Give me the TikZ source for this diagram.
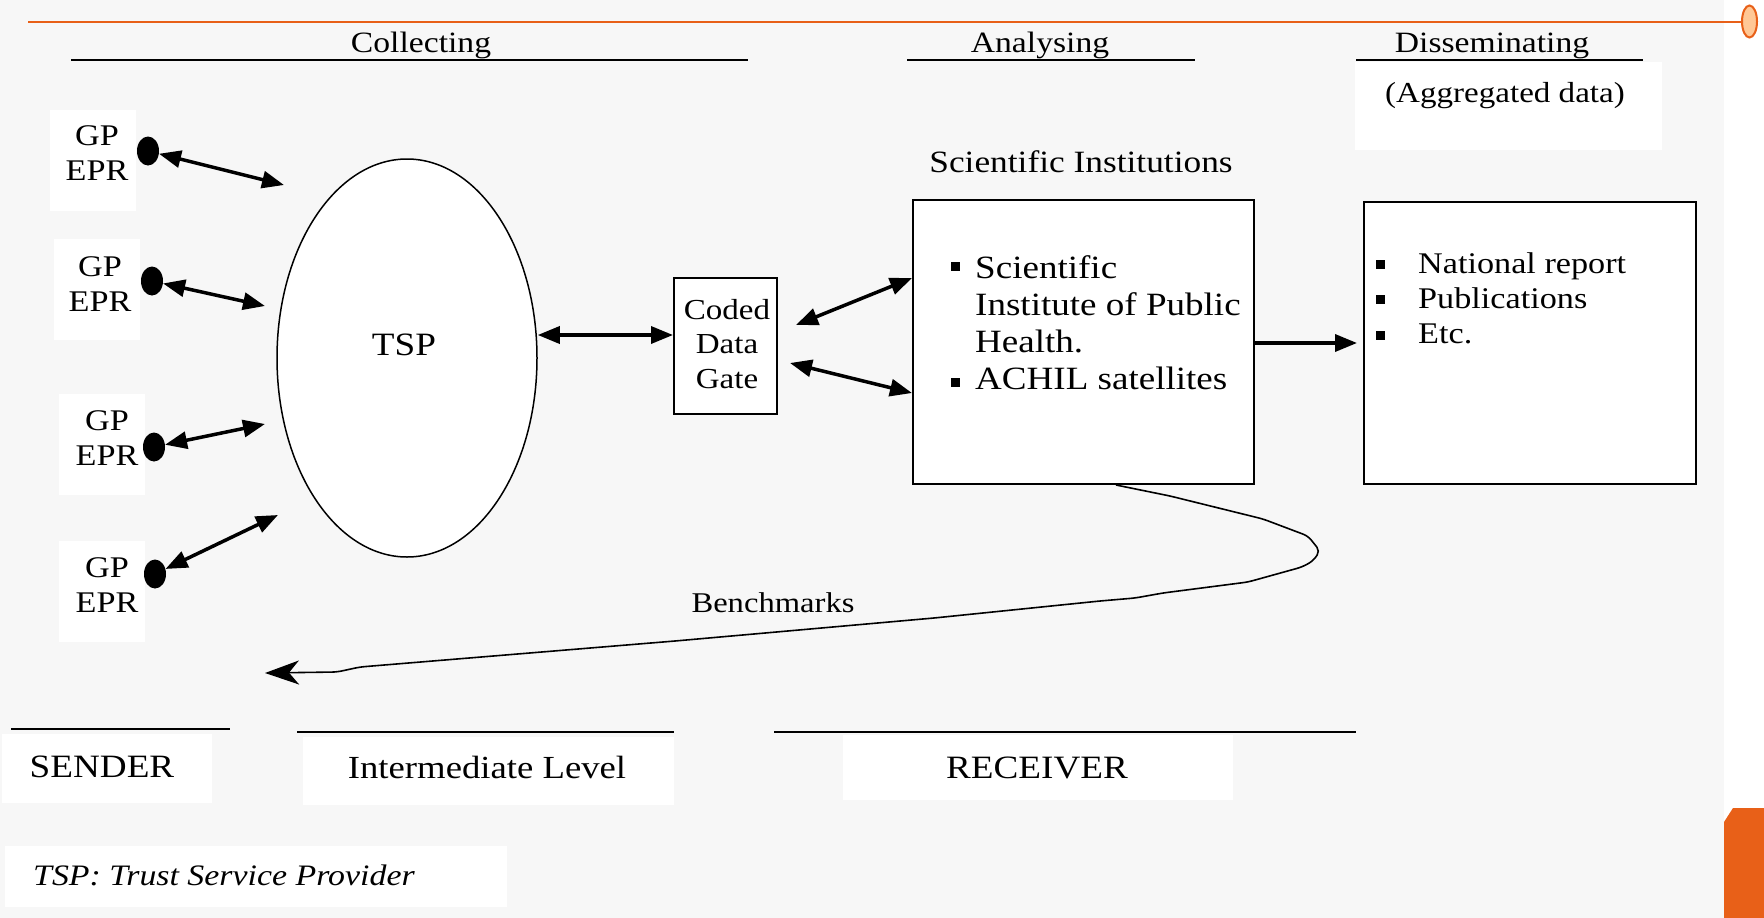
\documentclass[tikz,border=0pt]{standalone}
\usepackage{fontspec}
\setmainfont{Liberation Serif}[FakeStretch=1.14]
\usetikzlibrary{arrows.meta,shapes.geometric}
\definecolor{bg}{HTML}{F7F7F7}
\definecolor{orng}{RGB}{232,96,24}
\definecolor{lorng}{RGB}{255,200,150}
\newcommand{\fsz}[2]{\fontsize{#1pt}{#2pt}\selectfont}
\tikzset{
  txt/.style={inner sep=0pt, anchor=base},
  txtl/.style={inner sep=0pt, anchor=base west},
  dbl/.style={line width=3.5pt, {Triangle[length=22pt,width=17pt]}-{Triangle[length=22pt,width=17pt]}},
  sgl/.style={line width=3.5pt, -{Triangle[length=22pt,width=17pt]}},
  hrule/.style={line width=1.8pt},
  wbox/.style={fill=white},
  dot/.style={fill=black, ellipse, minimum width=22pt, minimum height=29pt, inner sep=0pt},
  gptxt/.style={inner sep=0pt, anchor=north, align=center, font=\fsz{30}{35}},
  bul/.style={fill=black},
  frame/.style={draw, line width=2pt, fill=white, inner sep=0pt, anchor=north west}
}
\begin{document}
\begin{tikzpicture}[x=1pt,y=-1pt]
\useasboundingbox (0,0) rectangle (1764,918);
% background
\fill[bg] (0,0) rectangle (1724,918);
\fill[white] (1724,0) rectangle (1764,918);
% orange decorations
\draw[orng, line width=2pt] (28,22) -- (1742,22);
\draw[orng, line width=2pt, fill=lorng] (1749.5,21.5) ellipse [x radius=7.5, y radius=16];
\fill[orng] (1724,822) -- (1733,808) -- (1764,808) -- (1764,918) -- (1724,918) -- cycle;

% headers
\node[txt, font=\fsz{29.5}{34}] (hcol) at (421,52) {Collecting};
\draw[hrule] (71,60) -- (748,60);
\node[txt, font=\fsz{29.5}{34}] (hana) at (1040,52) {Analysing};
\draw[hrule] (907,60) -- (1195,60);
\node[txt, font=\fsz{29.5}{34}] (hdis) at (1492,52) {Disseminating};
\draw[hrule] (1356,60) -- (1643,60);
\fill[wbox] (1355,62) rectangle (1662,150);
\node[txt, font=\fsz{29}{34}] (agg) at (1505,102) {(Aggregated data)};

% GP EPR boxes
\fill[wbox] (50,110) rectangle (136,211);
\fill[wbox] (54,239) rectangle (140,340);
\fill[wbox] (59,394) rectangle (145,495);
\fill[wbox] (59,541) rectangle (145,642);
\node[gptxt] (gp1) at (97,125) {GP\\EPR};
\node[gptxt] (gp2) at (100,256) {GP\\EPR};
\node[gptxt] (gp3) at (107,410) {GP\\EPR};
\node[gptxt] (gp4) at (107,557) {GP\\EPR};
\node[dot] (d1) at (148,151) {};
\node[dot] (d2) at (152,281) {};
\node[dot] (d3) at (154,447) {};
\node[dot] (d4) at (155,574) {};

% TSP
\node[draw, ellipse, line width=1.5pt, fill=white, minimum width=260pt, minimum height=398pt, inner sep=0pt] (tsp) at (407,358) {};
\node[txt, font=\fsz{32.6}{36}] (tsplbl) at (404,355) {TSP};
\coordinate (a1) at (284,185);
\coordinate (a2) at (265,306);
\coordinate (a3) at (265,424);
\coordinate (a4) at (278,515);
\draw[dbl] (d1) -- (a1);
\draw[dbl] (d2) -- (a2);
\draw[dbl] (d3) -- (a3);
\draw[dbl] (d4) -- (a4);

% Coded Data Gate
\node[draw, line width=1.8pt, fill=white, inner sep=0pt, anchor=north west, minimum width=103pt, minimum height=136pt] (cdg) at (673,277) {};
\node[inner sep=0pt, anchor=north, align=center, font=\fsz{29}{34.5}] (cdglbl) at (727,299) {Coded\\Data\\Gate};
\draw[dbl] (tsp.east |- 0,335) -- (cdg.west |- 0,335);

% Scientific institutions
\node[txt, font=\fsz{31}{36}] (scititle) at (1081,172) {Scientific Institutions};
\node[frame, minimum width=341pt, minimum height=284pt] (sci) at (912,199) {};
\fill[bul] (951,262) rectangle (960,271);
\fill[bul] (951,378) rectangle (960,387);
\node[txtl, font=\fsz{32.5}{37}] (s1) at (975,278) {Scientific};
\node[txtl, font=\fsz{32.5}{37}] (s2) at (975,315) {Institute of Public};
\node[txtl, font=\fsz{32.5}{37}] (s3) at (975,352) {Health.};
\node[txtl, font=\fsz{32.5}{37}] (s4) at (975,389) {ACHIL satellites};
\coordinate (c1s) at (796,325);
\coordinate (c1e) at (912,278);
\coordinate (c2s) at (790,363);
\coordinate (c2e) at (912,393);
\draw[dbl] (c1s) -- (c1e);
\draw[dbl] (c2s) -- (c2e);

% Report box
\node[frame, minimum width=332pt, minimum height=282pt] (rep) at (1363,201) {};
\fill[bul] (1376,260) rectangle (1385,269);
\fill[bul] (1376,295) rectangle (1385,304);
\fill[bul] (1376,331) rectangle (1385,340);
\node[txtl, font=\fsz{30}{35}] (r1) at (1418,273) {National report};
\node[txtl, font=\fsz{30}{35}] (r2) at (1418,308) {Publications};
\node[txtl, font=\fsz{30}{35}] (r3) at (1418,343) {Etc.};
\draw[sgl, shorten >=6pt] (sci.east |- 0,343) -- (rep.west |- 0,343);

% Benchmarks loop
\coordinate (bstart) at (1116,485);
\coordinate (bend) at (265,673);
\draw[line width=1.6pt, rounded corners=5pt, -{Stealth[length=34pt,width=24pt,inset=10pt]}]
  (bstart) -- (1170,496) -- (1263,519) -- (1308,536) -- (1320,551) -- (1313,561)
  -- (1302,567) -- (1248,582) -- (1163,593) -- (1135,598) -- (1100,601)
  -- (934,618) -- (675,641) -- (360,667) -- (337,672) -- (bend);
\node[txt, font=\fsz{28.6}{33}] (bench) at (773,612) {Benchmarks};

% bottom levels
\draw[hrule] (11,729) -- (230,729);
\draw[hrule] (297,732) -- (674,732);
\draw[hrule] (774,732) -- (1356,732);
\fill[wbox] (2,734) rectangle (212,803);
\fill[wbox] (303,737) rectangle (674,805);
\fill[wbox] (843,735) rectangle (1233,800);
\node[txt, font=\fsz{32.6}{37}] (sender) at (102,777) {SENDER};
\node[txt, font=\fsz{32.2}{37}] (inter) at (487,778) {Intermediate Level};
\node[txt, font=\fsz{32.6}{37}] (recv) at (1037,778) {RECEIVER};

% legend
\fill[wbox] (5,846) rectangle (507,907);
\node[txtl, font=\fsz{29.7}{34}\itshape] (legend) at (33,885) {TSP: Trust Service Provider};
\end{tikzpicture}
\end{document}
